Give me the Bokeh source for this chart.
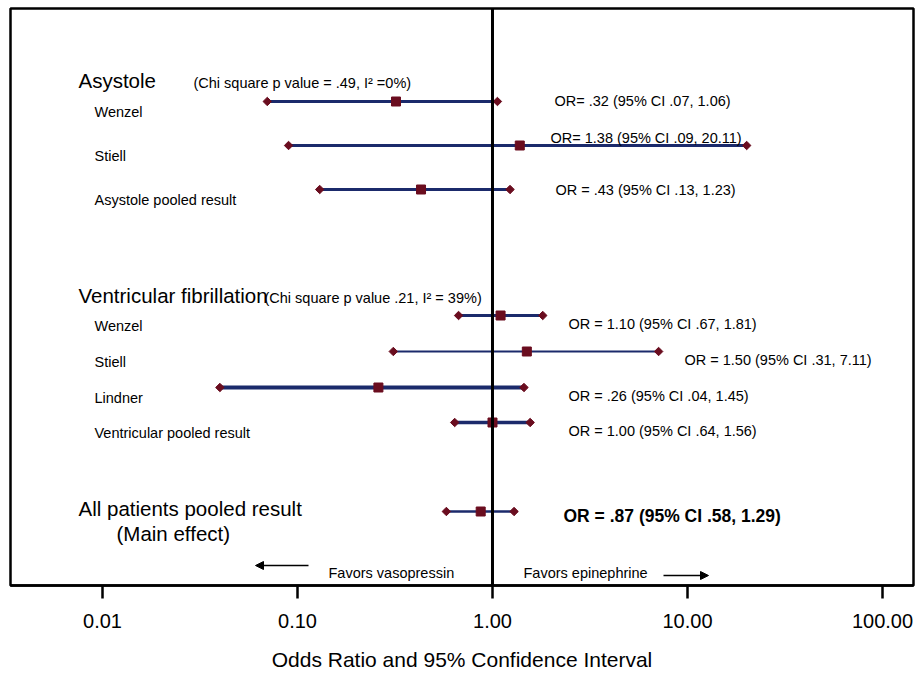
from bokeh.plotting import figure
from bokeh.models import Range1d, Span, Label, Arrow, NormalHead, FixedTicker, ColumnDataSource
from bokeh.embed import file_html
from bokeh.resources import INLINE

# ---------------- data ----------------
studies = ["Wenzel", "Stiell", "Asystole pooled result",
           "Wenzel", "Stiell", "Lindner", "Ventricular pooled result",
           "All patients pooled result"]
odds_ratio = [0.32, 1.38, 0.43, 1.10, 1.50, 0.26, 1.00, 0.87]
ci_low = [0.07, 0.09, 0.13, 0.67, 0.31, 0.04, 0.64, 0.58]
ci_high = [1.06, 20.11, 1.23, 1.81, 7.11, 1.45, 1.56, 1.29]
result_text = ["OR= .32 (95% CI .07, 1.06)",
               "OR= 1.38 (95% CI .09, 20.11)",
               "OR = .43 (95% CI .13, 1.23)",
               "OR = 1.10 (95% CI .67, 1.81)",
               "OR = 1.50 (95% CI .31, 7.11)",
               "OR = .26 (95% CI .04, 1.45)",
               "OR = 1.00 (95% CI .64, 1.56)",
               "OR = .87 (95% CI .58, 1.29)"]
group_titles = ["Asystole", "Ventricular fibrillation", "All patients pooled result"]
group_stats = ["(Chi square p value = .49, I\u00b2 =0%)",
               "(Chi square p value .21, I\u00b2 =  39%)"]
tick_values = [0.01, 0.1, 1, 10, 100]
tick_labels = ["0.01", "0.10", "1.00", "10.00", "100.00"]

# ---------------- layout (positions / styles) ----------------
row_y = [93, 137, 181, 307, 343, 379, 414, 503]
text_x = [544, 540, 545, 558, 674, 558, 558, 553]
text_dy = [1, 8, 0, -8, -8, -8, -8, -4]
line_w = [3, 3, 3, 3, 2, 4, 3.5, 2.5]

FONT = "Liberation Sans"
NAVY = "#1b2a6b"
MAROON = "#6a0d1f"

p = figure(width=916, height=677, x_axis_type="log",
           x_range=Range1d(0.003375, 144.2), y_range=Range1d(577, 0),
           output_backend="svg", toolbar_location=None,
           min_border_left=10, min_border_right=3, min_border_top=8, min_border_bottom=92,
           y_axis_location=None)
p.xgrid.visible = False
p.ygrid.visible = False
p.outline_line_color = "black"
p.outline_line_width = 2.5
p.background_fill_color = "white"
p.border_fill_color = "white"

ax = p.xaxis[0]
ax.ticker = FixedTicker(ticks=tick_values, minor_ticks=[])
ax.major_label_overrides = {v: s for v, s in zip(tick_values, tick_labels)}
ax.major_tick_out = 13
ax.major_tick_in = 0
ax.major_tick_line_width = 2.5
ax.major_tick_line_color = "black"
ax.minor_tick_line_color = None
ax.axis_line_color = "black"
ax.axis_line_width = 2.5
ax.major_label_text_font = FONT
ax.major_label_text_font_size = "20px"
ax.major_label_text_color = "black"
ax.major_label_standoff = 15
ax.axis_label = "Odds Ratio and 95% Confidence Interval"
ax.axis_label_text_font = FONT
ax.axis_label_text_font_size = "21px"
ax.axis_label_text_font_style = "normal"
ax.axis_label_text_color = "black"
ax.axis_label_standoff = 17

# reference line at OR = 1
p.add_layout(Span(location=1, dimension="height", line_color="black", line_width=3))

src = ColumnDataSource(dict(lo=ci_low, hi=ci_high, orv=odds_ratio, y=row_y, lw=line_w))
p.segment(x0="lo", x1="hi", y0="y", y1="y", source=src, line_color=NAVY, line_width="lw")
p.scatter(x="lo", y="y", source=src, marker="square", angle=0.785, size=6,
          fill_color=MAROON, line_color=MAROON)
p.scatter(x="hi", y="y", source=src, marker="square", angle=0.785, size=6,
          fill_color=MAROON, line_color=MAROON)
p.scatter(x="orv", y="y", source=src, marker="square", size=9,
          fill_color=MAROON, line_color=MAROON)

# study names (first seven rows) and result texts
for i in range(7):
    p.add_layout(Label(x=84, y=row_y[i], x_units="screen", y_units="data", y_offset=-10,
                       text=studies[i], text_font=FONT, text_font_size="14.5px",
                       text_baseline="middle", text_color="black"))
for i in range(8):
    last = i == 7
    p.add_layout(Label(x=text_x[i], y=row_y[i], x_units="screen", y_units="data",
                       y_offset=text_dy[i], text=result_text[i], text_font=FONT,
                       text_font_size="17.5px" if last else "14.5px",
                       text_font_style="bold" if last else "normal",
                       text_baseline="middle", text_color="black"))

# group headings
head_pos = [(68, 72), (68, 287), (68, 500)]
for (hx, hy), t in zip(head_pos, group_titles):
    p.add_layout(Label(x=hx, y=hy, x_units="screen", y_units="data", text=t,
                       text_font=FONT, text_font_size="20.5px", text_baseline="middle",
                       text_color="black"))
p.add_layout(Label(x=106, y=525, x_units="screen", y_units="data", text="(Main effect)",
                   text_font=FONT, text_font_size="20.5px", text_baseline="middle",
                   text_color="black"))
for (sx, sy), t in zip([(183, 74), (254, 289)], group_stats):
    p.add_layout(Label(x=sx, y=sy, x_units="screen", y_units="data", text=t,
                       text_font=FONT, text_font_size="14.5px", text_baseline="middle",
                       text_color="black"))

# favours annotations
p.add_layout(Label(x=318, y=564, x_units="screen", y_units="data", text="Favors vasopressin",
                   text_font=FONT, text_font_size="14.5px", text_baseline="middle",
                   text_color="black"))
p.add_layout(Label(x=513, y=564, x_units="screen", y_units="data", text="Favors epinephrine",
                   text_font=FONT, text_font_size="14.5px", text_baseline="middle",
                   text_color="black"))
p.add_layout(Arrow(x_start=298, y_start=20, x_end=245, y_end=20,
                   start_units="screen", end_units="screen",
                   line_color="black", line_width=1.5,
                   end=NormalHead(size=8, fill_color="black", line_color="black")))
p.add_layout(Arrow(x_start=653, y_start=10, x_end=698, y_end=10,
                   start_units="screen", end_units="screen",
                   line_color="black", line_width=1.5,
                   end=NormalHead(size=8, fill_color="black", line_color="black")))

open("out.html", "w").write(file_html(p, INLINE))
